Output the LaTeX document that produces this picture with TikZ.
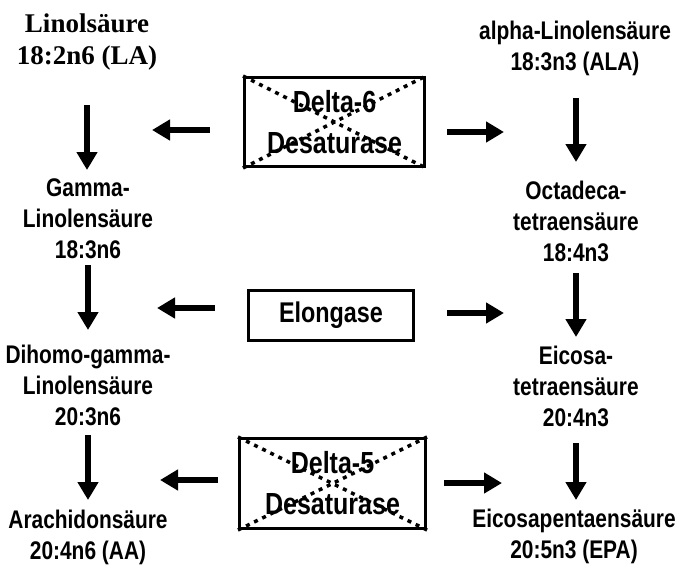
\documentclass[tikz,border=0pt]{standalone}
\usepackage{fontspec}
\setmainfont{Liberation Serif}
\setsansfont{Liberation Sans}[FakeStretch=0.82]
\usepackage{tikz}
\usetikzlibrary{arrows.meta,calc}

\begin{document}
\begin{tikzpicture}[
  x=1pt, y=1pt,
  acid/.style={
    font=\sffamily\bfseries\fontsize{25.5}{31}\selectfont,
    align=center, inner sep=0pt
  },
  serifacid/.style={
    font=\rmfamily\bfseries\fontsize{27}{32}\selectfont,
    align=center, inner sep=0pt
  },
  enzbox/.style={
    rectangle, draw, line width=3pt,
    font=\sffamily\bfseries\fontsize{30.5}{41}\selectfont,
    align=center, inner sep=0pt
  },
  crossline/.style={line width=3.5pt, dash pattern=on 4pt off 5pt},
  flowarrow/.style={-{Triangle[length=18pt,width=20pt]}, line width=5.5pt}
]
\useasboundingbox (0,0) rectangle (677,-565);

% omega-6 column (left)
\node[serifacid] (la) at (87,-42) {Linols\"aure\\18:2n6 (LA)};
\node[acid] (gla) at (88,-219) {Gamma-\\Linolens\"aure\\18:3n6};
\node[acid] (dgla) at (88,-385) {Dihomo-gamma-\\Linolens\"aure\\20:3n6};
\node[acid] (aa) at (88,-537) {Arachidons\"aure\\20:4n6 (AA)};

% omega-3 column (right)
\node[acid] (ala) at (575,-48) {alpha-Linolens\"aure\\18:3n3 (ALA)};
\node[acid] (sda) at (576,-221) {Octadeca-\\tetraens\"aure\\18:4n3};
\node[acid] (eta) at (576,-386) {Eicosa-\\tetraens\"aure\\20:4n3};
\node[acid] (epa) at (574,-536) {Eicosapentaens\"aure\\20:5n3 (EPA)};

% Enzymes in the middle
\node[enzbox, minimum width=180, minimum height=89] (d6) at (334.5,-122) {Delta-6\\Desaturase};
\node[enzbox, minimum width=165, minimum height=50, font=\sffamily\bfseries\fontsize{28.5}{41}\selectfont] (el) at (331,-315.5) {Elongase};
\node[enzbox, minimum width=186, minimum height=90] (d5) at (332.5,-483.5) {Delta-5\\Desaturase};

% desaturases crossed out
\draw[crossline] (d6.north west) -- (d6.south east);
\draw[crossline] (d6.south west) -- (d6.north east);
\draw[crossline] (d5.north west) -- (d5.south east);
\draw[crossline] (d5.south west) -- (d5.north east);

% Pathway steps (down)
\draw[flowarrow, shorten <=63pt, shorten >=49pt] (la.center) -- (la.center |- gla.center);
\draw[flowarrow, shorten <=46pt, shorten >=55pt] (gla.center) -- (dgla.center);
\draw[flowarrow, shorten <=50pt, shorten >=37pt] (dgla.center) -- (aa.center);
\draw[flowarrow, shorten <=50pt, shorten >=59pt] (sda.center |- ala.center) -- (sda.center);
\draw[flowarrow, shorten <=52pt, shorten >=49pt] (sda.center) -- (eta.center);
\draw[flowarrow, shorten <=57pt, shorten >=36pt] (eta.center) -- (eta.center |- epa.center);

% Enzyme arrows to both sides
\draw[flowarrow] (d6.west) ++(-33,-8) -- ++(-58,0);
\draw[flowarrow] (d6.east) ++(21,-10) -- ++(57,0);
\draw[flowarrow] (el.west) ++(-32,7.5) -- ++(-58,0);
\draw[flowarrow] (el.east) ++(32,2.5) -- ++(57,0);
\draw[flowarrow] (d5.west) ++(-20,3.5) -- ++(-58,0);
\draw[flowarrow] (d5.east) ++(17,0.5) -- ++(58,0);

\end{tikzpicture}
\end{document}
